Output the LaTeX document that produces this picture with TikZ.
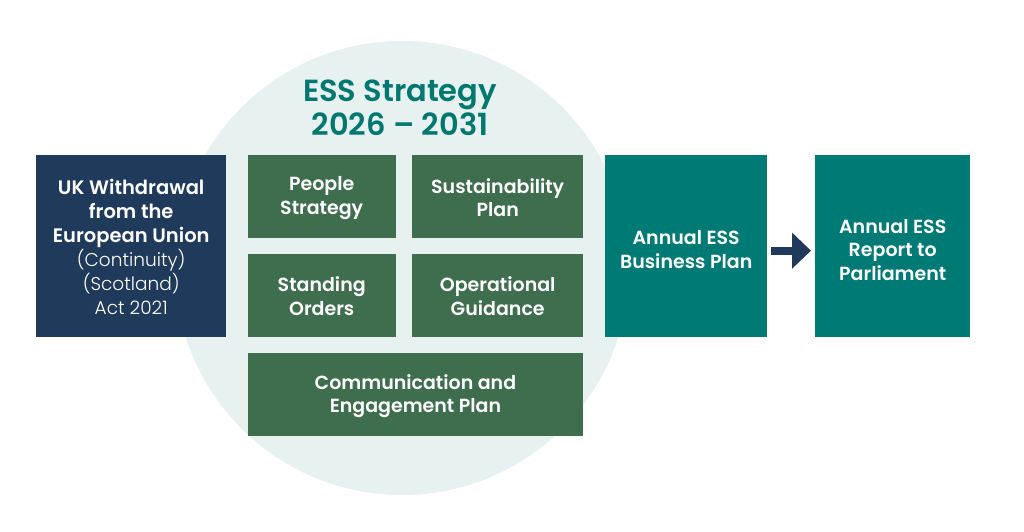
\documentclass[tikz,border=0pt]{standalone}
\usepackage{fontspec}
\usetikzlibrary{arrows.meta}
\setmainfont{Poppins}
\newfontfamily\semi{Poppins SemiBold}
\newfontfamily\lite{Poppins Light}
\newcommand\topstrut[1]{\rule{0pt}{#1pt}}
\definecolor{navy}{HTML}{203A5C}
\definecolor{teal1}{HTML}{007A74}
\definecolor{green1}{HTML}{3F6E4E}
\definecolor{circ}{HTML}{E7F1EF}
\definecolor{titlec}{HTML}{00776F}
\tikzset{
 bx/.style={anchor=north west,inner sep=0pt,align=center,text=white,font=\fontsize{19}{23.5}\selectfont\semi},
}
\begin{document}
\begin{tikzpicture}[x=1pt,y=-1pt]
\useasboundingbox[fill=white] (0,0) rectangle (1024,532);
\node[circle,fill=circ,minimum size=454,inner sep=0pt] (c) at (402,268) {};
\node[align=center,text=titlec,font=\fontsize{30.5}{34}\selectfont\semi] (t) at (400,108) {ESS Strategy\\2026 – 2031};
\node[bx,fill=navy,minimum width=190,minimum height=182,font=\fontsize{19.5}{24}\selectfont\semi] (a) at (36,155) {\topstrut{17}UK Withdrawal\\from the\\European Union\\{\lite\fontsize{18.5}{24}\selectfont (Continuity)}\\{\lite\fontsize{18.5}{24}\selectfont (Scotland)}\\{\lite\fontsize{18.5}{24}\selectfont Act 2021}};
\node[bx,fill=green1,minimum width=148,minimum height=83] (p) at (247.5,155) {\topstrut{17}People\\Strategy};
\node[bx,fill=green1,minimum width=171,minimum height=83] (s) at (412,155) {\topstrut{17}Sustainability\\Plan};
\node[bx,fill=green1,minimum width=148,minimum height=83] (so) at (247.5,254) {\topstrut{16}Standing\\Orders};
\node[bx,fill=green1,minimum width=171,minimum height=83] (o) at (412,254) {\topstrut{16}Operational\\Guidance};
\node[bx,fill=green1,minimum width=335.5,minimum height=83] (ce) at (247.5,353) {\topstrut{18}Communication and\\Engagement Plan};
\node[bx,fill=teal1,minimum width=162,minimum height=182] (b) at (605,155) {\topstrut{21}Annual ESS\\Business Plan};
\node[bx,fill=teal1,minimum width=155,minimum height=182] (r) at (815,155) {\topstrut{21.5}Annual ESS\\Report to\\Parliament};
\draw[navy,line width=8.3pt,-{Triangle[length=19pt,width=35pt]}] ([xshift=4pt,yshift=-4.5pt]b.east) -- ([xshift=-4pt,yshift=-4.5pt]r.west);
\end{tikzpicture}
\end{document}
